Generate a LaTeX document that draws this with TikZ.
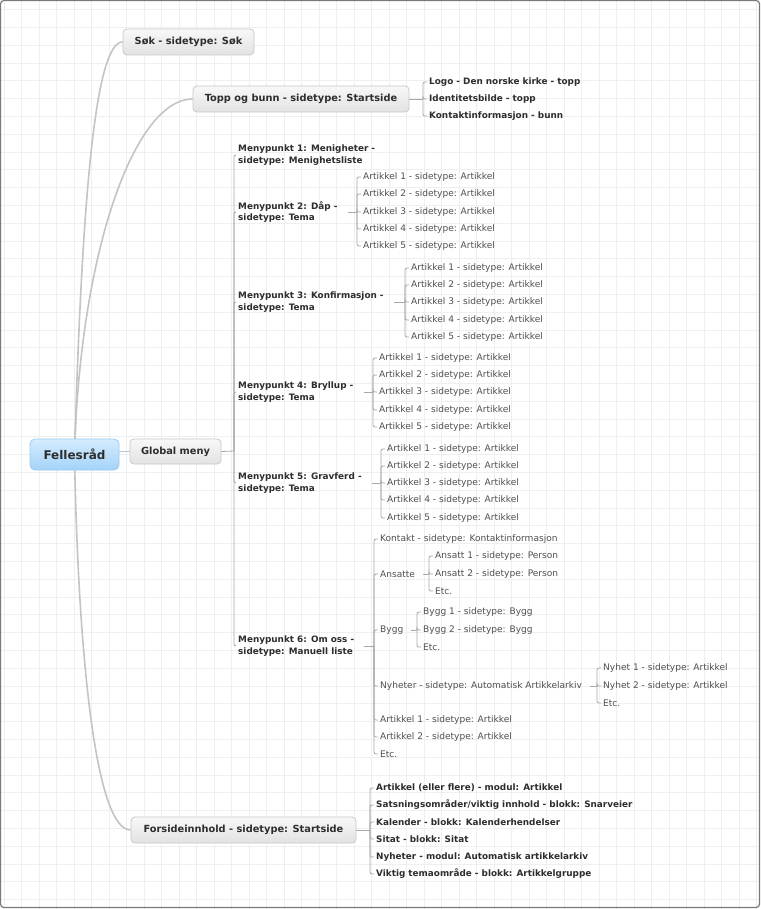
\documentclass[tikz,border=0pt]{standalone}
\usepackage{fontspec}
\setmainfont{DejaVu Sans}
\usetikzlibrary{backgrounds}
\definecolor{gridc}{RGB}{235,241,241}
\definecolor{framec}{RGB}{122,122,122}
\definecolor{treec}{RGB}{168,168,168}
\definecolor{curvec}{RGB}{196,196,196}
\definecolor{boldtxt}{RGB}{45,45,45}
\definecolor{regtxt}{RGB}{80,80,80}
\definecolor{boxdraw}{RGB}{200,200,200}
\definecolor{boxtop}{RGB}{248,248,248}
\definecolor{boxbot}{RGB}{226,226,226}
\definecolor{roottop}{RGB}{212,236,254}
\definecolor{rootbot}{RGB}{164,211,249}
\definecolor{rootdraw}{RGB}{160,203,238}
\begin{document}
\begin{tikzpicture}[x=1pt,y=-1pt,
 topicbox/.style={draw=boxdraw, rounded corners=4pt, top color=boxtop, bottom color=boxbot, text=boldtxt, font=\bfseries\fontsize{9.8}{12}\selectfont, minimum height=26pt, inner sep=0pt, line width=0.8pt},
 rootbox/.style={draw=rootdraw, rounded corners=5pt, top color=roottop, bottom color=rootbot, text=boldtxt, font=\bfseries\fontsize{12}{14}\selectfont, minimum width=89pt, minimum height=31pt, inner sep=0pt, line width=0.8pt},
 bleaf/.style={anchor=west, inner xsep=2pt, inner ysep=1pt, text=boldtxt, font=\bfseries\fontsize{8.85}{11.5}\selectfont, align=left},
 leaf/.style={anchor=west, inner xsep=2pt, inner ysep=1pt, text=regtxt, font=\fontsize{9.05}{11}\selectfont},
 tree/.style={draw=treec, line width=0.8pt, rounded corners=2pt},
 curve/.style={draw=curvec, line width=1.6pt},
]
\useasboundingbox (0,0) rectangle (760,909);

% main topic boxes
\node[rootbox] (root) at (74.5,454.5) {Fellesråd};
\node[topicbox, minimum width=131pt] (sok) at (188.5,42) {Søk - sidetype: Søk};
\node[topicbox, minimum width=216pt] (topp) at (301,99) {Topp og bunn - sidetype: Startside};
\node[topicbox, minimum width=91pt, minimum height=25pt] (gm) at (175.5,451.5) {Global meny};
\node[topicbox, minimum width=225pt] (fi) at (243.5,830) {Forsideinnhold - sidetype: Startside};

% Topp og bunn
\coordinate (bt) at (423,99);
\draw[tree] (topp.east) -- (bt);
\foreach \i/\yy/\t in {1/82/{Logo - Den norske kirke - topp},2/99/{Identitetsbilde - topp},3/116/{Kontaktinformasjon - bunn}}{
  \node[bleaf] (t\i) at (427,\yy) {\t};
  \draw[tree] (bt) |- (t\i.west);
}

% Global meny
\coordinate (bg) at (234,451);
\draw[tree] (gm.east) -- (bg);
\node[bleaf] (m1) at (236,155) {Menypunkt 1: Menigheter -\\sidetype: Menighetsliste};
\node[bleaf] (m2) at (236,212) {Menypunkt 2: Dåp -\\sidetype: Tema};
\node[bleaf] (m3) at (236,302) {Menypunkt 3: Konfirmasjon -\\sidetype: Tema};
\node[bleaf] (m4) at (236,392) {Menypunkt 4: Bryllup -\\sidetype: Tema};
\node[bleaf] (m5) at (236,483) {Menypunkt 5: Gravferd -\\sidetype: Tema};
\node[bleaf] (m6) at (236,646) {Menypunkt 6: Om oss -\\sidetype: Manuell liste};
\foreach \m in {m1,m2,m3,m4,m5,m6}{\draw[tree] (bg) |- (\m.west);}

% article lists
\foreach \m/\bx/\by/\ya/\yb/\yc/\yd/\ye in {m2/357/212/177/194/212/229/246, m3/405/302/268/285/302/320/337, m4/373/392/358/375/392/410/427, m5/381/483/449/466/483/500/518}{
  \coordinate (b\m) at (\bx,\by);
  \draw[tree] ([xshift=8pt]\m.east) -- (b\m);
  \foreach \i/\yy in {1/\ya,2/\yb,3/\yc,4/\yd,5/\ye}{
    \node[leaf] (\m a\i) at (\bx+4,\yy) {Artikkel \i\ - sidetype: Artikkel};
    \draw[tree] (b\m) |- (\m a\i.west);
  }
}

% Menypunkt 6
\coordinate (bm6) at (374,646);
\draw[tree] ([xshift=8pt]m6.east) -- (bm6);
\node[leaf] (k) at (378,539) {Kontakt - sidetype: Kontaktinformasjon};
\node[leaf] (ans) at (378,574) {Ansatte};
\node[leaf] (byg) at (378,630) {Bygg};
\node[leaf] (nyh) at (378,686) {Nyheter - sidetype: Automatisk Artikkelarkiv};
\node[leaf] (r1) at (378,720) {Artikkel 1 - sidetype: Artikkel};
\node[leaf] (r2) at (378,737) {Artikkel 2 - sidetype: Artikkel};
\node[leaf] (r3) at (378,754) {Etc.};
\foreach \n in {k,ans,byg,nyh,r1,r2,r3}{\draw[tree] (bm6) |- (\n.west);}

\coordinate (bans) at (429,574);
\draw[tree] ([xshift=6pt]ans.east) -- (bans);
\node[leaf] (ans1) at (433,556) {Ansatt 1 - sidetype: Person};
\node[leaf] (ans2) at (433,574) {Ansatt 2 - sidetype: Person};
\node[leaf] (ans3) at (433,591) {Etc.};
\foreach \n in {ans1,ans2,ans3}{\draw[tree] (bans) |- (\n.west);}

\coordinate (bbyg) at (417,630);
\draw[tree] ([xshift=6pt]byg.east) -- (bbyg);
\node[leaf] (byg1) at (421,612) {Bygg 1 - sidetype: Bygg};
\node[leaf] (byg2) at (421,630) {Bygg 2 - sidetype: Bygg};
\node[leaf] (byg3) at (421,647) {Etc.};
\foreach \n in {byg1,byg2,byg3}{\draw[tree] (bbyg) |- (\n.west);}

\coordinate (bnyh) at (597,686);
\draw[tree] ([xshift=6pt]nyh.east) -- (bnyh);
\node[leaf] (nyh1) at (601,668) {Nyhet 1 - sidetype: Artikkel};
\node[leaf] (nyh2) at (601,686) {Nyhet 2 - sidetype: Artikkel};
\node[leaf] (nyh3) at (601,703) {Etc.};
\foreach \n in {nyh1,nyh2,nyh3}{\draw[tree] (bnyh) |- (\n.west);}

% Forsideinnhold
\coordinate (bf) at (370,830);
\draw[tree] (fi.east) -- (bf);
\foreach \i/\yy/\t in {1/788/{Artikkel (eller flere) - modul: Artikkel},2/805/{Satsningsområder/viktig innhold - blokk: Snarveier},3/822/{Kalender - blokk: Kalenderhendelser},4/839/{Sitat - blokk: Sitat},5/857/{Nyheter - modul: Automatisk artikkelarkiv},6/874/{Viktig temaområde - blokk: Artikkelgruppe}}{
  \node[bleaf] (f\i) at (374,\yy) {\t};
  \draw[tree] (bf) |- (f\i.west);
}

\begin{pgfonlayer}{background}
  \fill[white] (0,0) rectangle (760,909);
  \foreach \gx in {0,...,43}{\draw[gridc, line width=0.7pt] ({4.2+17.5*\gx},0) -- ++(0,909);}
  \foreach \gy in {0,...,50}{\draw[gridc, line width=0.7pt] (0,{9.5+17.8*\gy}) -- ++(760,0);}
  \draw[curve] (root.center) .. controls (82,200) and (95,42) .. (sok.west);
  \draw[curve] (root.center) .. controls (80,250) and (135,99) .. (topp.west);
  \draw[curve] (root.center) .. controls (78,650) and (95,830) .. (fi.west);
  \draw[curve, line width=1.2pt] (gm.west) -- (gm.west -| root.east);
\end{pgfonlayer}

\draw[framec, line width=1.2pt, rounded corners=3pt] (0.6,0.6) rectangle (759.4,907.4);
\end{tikzpicture}
\end{document}
